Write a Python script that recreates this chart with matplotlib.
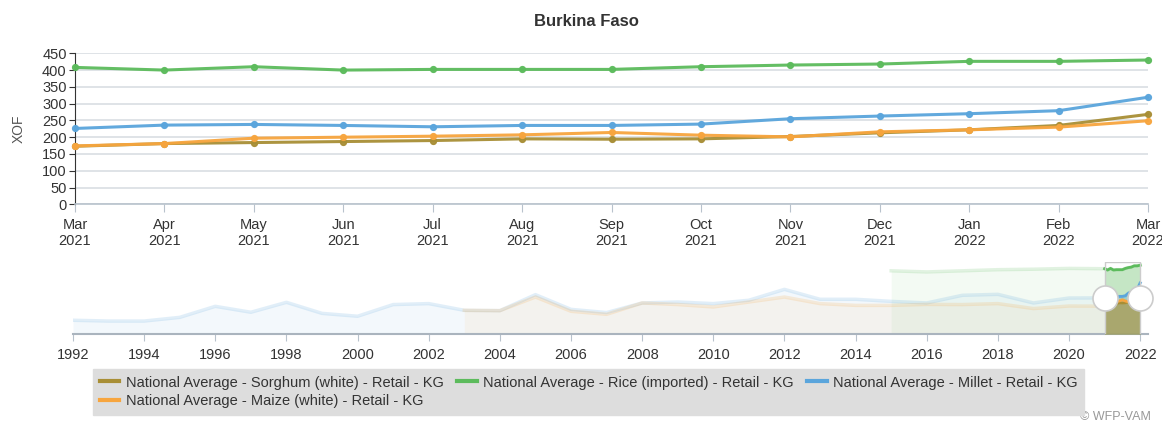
import numpy as np
import matplotlib
matplotlib.use("Agg")
import matplotlib.pyplot as plt
from matplotlib.lines import Line2D
from matplotlib.transforms import blended_transform_factory

plt.rcParams["font.family"] = ["Liberation Sans", "DejaVu Sans"]

# monthly national averages, XOF/kg
months = ["Mar", "Apr", "May", "Jun", "Jul", "Aug", "Sep",
          "Oct", "Nov", "Dec", "Jan", "Feb", "Mar"]
years = ["2021"] * 10 + ["2022"] * 3

sorghum = [173, 181, 184, 187, 190, 195, 194, 195, 202, 213, 222, 235, 268]
rice = [408, 400, 410, 400, 402, 402, 402, 410, 415, 418, 426, 426, 430]
millet = [226, 236, 238, 235, 231, 235, 235, 239, 255, 263, 270, 279, 319]
maize = [174, 181, 197, 200, 203, 207, 214, 206, 201, 216, 222, 230, 249]

# navigator history (yearly)
millet_hist_years = list(range(1992, 2021))
millet_hist = [86, 81, 81, 104, 173, 136, 198, 129, 111, 184, 190, 148, 146,
               246, 154, 134, 194, 200, 190, 211, 279, 217, 217, 204, 194,
               242, 248, 194, 225]
maize_hist_years = list(range(2003, 2021))
maize_hist = [148, 146, 231, 142, 123, 194, 184, 169, 200, 231, 190, 179,
              179, 185, 184, 190, 159, 175]
rice_hist_years = list(range(2015, 2021))
rice_hist = [395, 388, 395, 402, 405, 410]

names = ["National Average - Sorghum (white) - Retail - KG",
         "National Average - Rice (imported) - Retail - KG",
         "National Average - Millet - Retail - KG",
         "National Average - Maize (white) - Retail - KG"]
colors = ["#a88e35", "#5cbb5c", "#5aa5dc", "#f7a53e"]

W, H = 1162, 421
fig = plt.figure(figsize=(W / 100, H / 100), dpi=100)


def frac(x0, y0, x1, y1):
    return [x0 / W, 1 - y1 / H, (x1 - x0) / W, (y1 - y0) / H]


text_col = "#333333"

# ---- main chart ----
ax = fig.add_axes(frac(75, 53.3, 1148, 204.3))
x = np.arange(len(months))
for vals, col in zip([sorghum, rice, millet, maize], colors):
    ax.plot(x, vals, color=col, lw=2.2, marker="o", ms=4.2,
            solid_capstyle="round", alpha=0.95, clip_on=False, zorder=3)

ax.set_xlim(0, len(months) - 1)
ax.set_ylim(0, 450)
ax.set_yticks(range(0, 451, 50))
ax.set_xticks(x)
ax.set_xticklabels([f"{m}\n{y}" for m, y in zip(months, years)],
                   fontsize=10.5, color=text_col, linespacing=1.15)
ax.tick_params(axis="y", labelsize=10.5, labelcolor=text_col, length=4,
               color="#333333", pad=2)
ax.tick_params(axis="x", length=6, color="#b8c2cc", pad=4)
ax.grid(axis="y", color="#d9dee3", lw=1.2)
ax.set_axisbelow(True)
for s in ["top", "right"]:
    ax.spines[s].set_visible(False)
ax.spines["left"].set_color("#333333")
ax.spines["bottom"].set_color("#b8c2cc")
ax.spines["bottom"].set_linewidth(1.2)
ax.set_ylabel("XOF", fontsize=10, color="#555555", labelpad=12)

fig.text(586 / W, 1 - 21 / H, "Burkina Faso", ha="center", va="center",
         fontsize=12, fontweight="bold", color=text_col)

# ---- navigator ----
nav = fig.add_axes(frac(73, 262, 1148, 334))
sel_pos = 2021 + np.arange(len(months)) / 12.0

hist = [([], []), (rice_hist_years, rice_hist),
        (millet_hist_years, millet_hist), (maize_hist_years, maize_hist)]
series = [sorghum, rice, millet, maize]
for (hy, hv), vals, col in zip(hist, series, colors):
    xs = list(hy) + list(sel_pos)
    ys = list(hv) + list(vals)
    if hy:
        nav.fill_between(xs, ys, color=col, alpha=0.07, lw=0)
        nav.plot(xs, ys, color=col, alpha=0.18, lw=2.5)

# selected range drawn stronger
for vals, col, a in zip(series, colors, [0.75, 0.3, 0.3, 0.3]):
    nav.fill_between(sel_pos, vals, color=col, alpha=a, lw=0, zorder=3)
for vals, col in zip(series, colors):
    nav.plot(sel_pos, vals, color=col, lw=2, zorder=4)

tr = blended_transform_factory(nav.transData, nav.transAxes)
nav.plot([sel_pos[0], sel_pos[0], sel_pos[-1], sel_pos[-1]],
         [0, 1, 1, 0], color="#cccccc", lw=1, zorder=5, transform=tr)
nav.plot([sel_pos[0], sel_pos[-1]], [0.5, 0.5], ls="none", marker="o",
         ms=18, mfc="white", mec="#cccccc", mew=1.2, transform=tr,
         zorder=6, clip_on=False)

nav.set_xlim(1992, 2022.22)
nav.set_ylim(0, 450)
nav.set_xticks(range(1992, 2023, 2))
nav.tick_params(axis="x", labelsize=10.5, labelcolor=text_col, length=5,
                color="#b8c2cc", pad=5)
nav.set_yticks([])
for s in ["top", "right", "left"]:
    nav.spines[s].set_visible(False)
nav.spines["bottom"].set_color("#aab4be")
nav.spines["bottom"].set_linewidth(1.5)

# ---- legend (row order like the reference: legend fills by column) ----
order = [0, 3, 1, 2]
handles = [Line2D([], [], color=colors[i], lw=3) for i in order]
leg = fig.legend(handles, [names[i] for i in order], loc="upper left",
                 ncol=3, bbox_to_anchor=(93 / W, 1 - 369 / H),
                 fontsize=10.5, frameon=True, fancybox=False,
                 facecolor="#dddddd", edgecolor="#dddddd", framealpha=1,
                 handlelength=1.35, handletextpad=0.45, columnspacing=0.9,
                 borderpad=0.45, labelspacing=0.3, borderaxespad=0)
for t in leg.get_texts():
    t.set_color(text_col)

fig.text(1080 / W, 1 - 417 / H, "\u00a9 WFP-VAM", fontsize=9,
         color="#999999", ha="left", va="center")

fig.savefig("out.png", dpi=100)
